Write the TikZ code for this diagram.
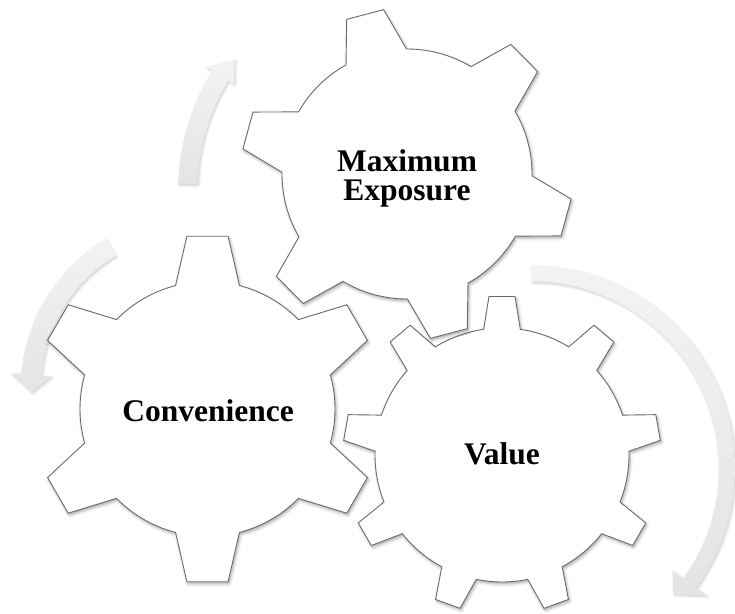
\documentclass[tikz,border=0pt]{standalone}
\usepackage{fontspec}
\setmainfont{Liberation Serif}
\usetikzlibrary{shadows.blur}
\definecolor{gearline}{HTML}{6A6A6A}
\definecolor{arrowA}{HTML}{F3F3F3}
\definecolor{arrowB}{HTML}{E4E4E4}
\tikzset{
  gearshape/.style={draw=gearline, line width=0.9pt, fill=white, line join=miter,
    blur shadow={shadow xshift=1.2pt, shadow yshift=-2pt, shadow blur radius=3pt, shadow opacity=35}},
  arrowshape/.style={draw=none, top color=arrowA, bottom color=arrowB,
    blur shadow={shadow xshift=1pt, shadow yshift=-1.5pt, shadow blur radius=2.5pt, shadow opacity=20}},
  gearlabel/.style={font=\bfseries\fontsize{31.5}{29}\selectfont, inner sep=0pt, align=center}
}
% cx cy n a0 R r halftip halfbase
\newcommand{\mygear}[8]{%
  \pgfmathsetmacro\gstep{360/#3}%
  \pgfmathtruncatemacro\nlast{#3-1}%
  \begin{scope}[shift={(#1,#2)}]
  \draw[gearshape] ({#4-#8}:#6)
    \foreach \k in {0,...,\nlast}{
      -- ({#4+\k*\gstep-#7}:#5) -- ({#4+\k*\gstep+#7}:#5) -- ({#4+\k*\gstep+#8}:#6)
      arc[start angle={#4+\k*\gstep+#8}, end angle={#4+(\k+1)*\gstep-#8}, radius=#6]
    } -- cycle;
  \end{scope}}
% cx cy r halfwidth startangle endangle headhalf tipangle tipradius
\newcommand{\circarrow}[9]{%
  \begin{scope}[shift={(#1,#2)}]
  \path[arrowshape] (#5:{#3+#4}) arc[start angle=#5, end angle=#6, radius={#3+#4}]
    -- (#6:{#3+#7}) -- (#8:#9) -- (#6:{#3-#7}) -- (#6:{#3-#4})
    arc[start angle=#6, end angle=#5, radius={#3-#4}] -- cycle;
  \end{scope}}
\begin{document}
\begin{tikzpicture}[x=1pt,y=1pt]
\useasboundingbox (0,0) rectangle (735,613);
% arrows
\circarrow{532}{144.5}{195}{8}{90}{-36}{21}{-41.5}{189}
\circarrow{195}{225}{164}{10}{121}{175.4}{20}{181.4}{163}
\circarrow{407}{423}{219}{9.5}{178.4}{148.4}{16}{142.9}{216}
% gears
\mygear{502}{158}{9}{90}{159}{127}{4.7}{8.3}
\mygear{407}{439}{6}{104.7}{166}{125}{6.6}{14.5}
\mygear{207.5}{204}{6}{90}{174}{127.5}{6.8}{14.5}
% labels
\node[gearlabel, anchor=north] (maxexp) at (407,463.5) {Maximum\\Exposure};
\node[gearlabel, anchor=base] (conv) at (208,191.3) {Convenience};
\node[gearlabel, anchor=base] (value) at (502,149) {Value};
\end{tikzpicture}
\end{document}
